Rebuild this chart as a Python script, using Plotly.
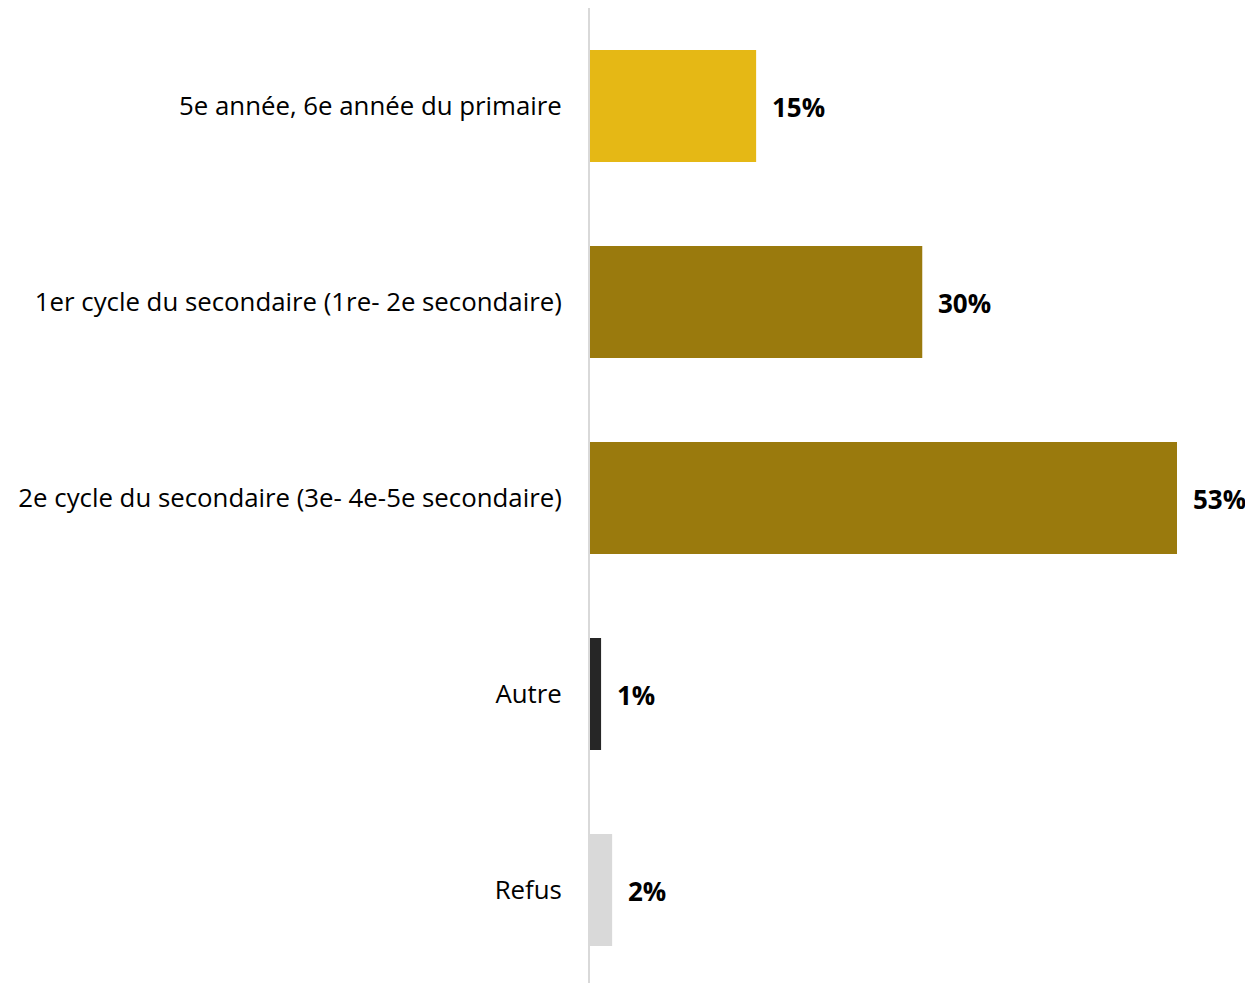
import plotly.graph_objects as go

categories = [
    "5e année, 6e année du primaire",
    "1er cycle du secondaire (1re- 2e secondaire)",
    "2e cycle du secondaire (3e- 4e-5e secondaire)",
    "Autre",
    "Refus",
]
values = [15, 30, 53, 1, 2]
labels = ["15%", "30%", "53%", "1%", "2%"]
colors = ["#E5B815", "#9A7A0D", "#9A7A0D", "#262626", "#D9D9D9"]

# page body has an 8px offset
W, H = 1245, 975
left, top = 582, 0
band = 196
plot_h = H - top
y_bottom = -0.5 + plot_h / band

fig = go.Figure()
fig.add_trace(go.Bar(
    x=values, y=categories, orientation="h",
    marker=dict(color=colors, line=dict(width=0)),
    width=112 / band,
    hoverinfo="skip",
))
for c, v, t in zip(categories, values, labels):
    fig.add_annotation(
        x=v, y=c, xref="x", yref="y", text="<b>" + t + "</b>",
        showarrow=False, xanchor="left", yanchor="middle", xshift=14, yshift=-1,
        font=dict(family="Open Sans", size=26, color="#000000"),
    )

fig.update_layout(
    width=W, height=H, autosize=False,
    margin=dict(l=left, r=0, t=top, b=0, pad=0),
    plot_bgcolor="white", paper_bgcolor="white",
    showlegend=False,
    font=dict(family="Open Sans", size=26, color="#000000"),
)
fig.update_xaxes(range=[0, (W - left) / ((1177 - 590) / 53)], visible=False,
                 showgrid=False, zeroline=False)
fig.update_yaxes(range=[y_bottom, -0.5], showgrid=False, zeroline=False,
                 showline=True, linecolor="#D9D9D9", linewidth=2,
                 ticks="", ticklabelstandoff=21,
                 tickfont=dict(family="Open Sans", size=25.8, color="#000000"))

fig.write_html("out.html")
